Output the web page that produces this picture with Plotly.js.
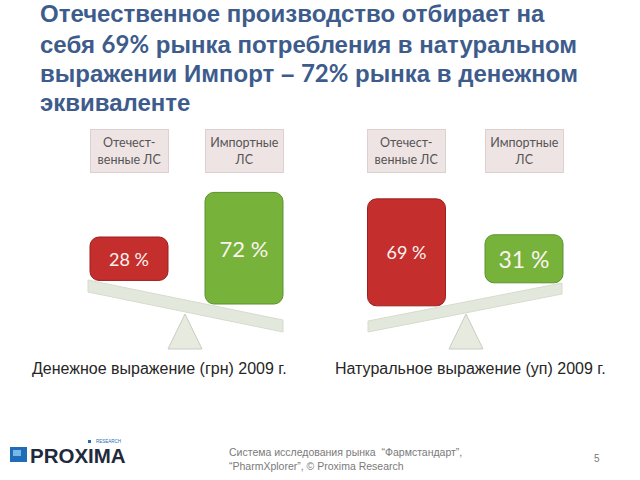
<!DOCTYPE html>
<html>
<head>
<meta charset="utf-8">
<script src="https://cdn.plot.ly/plotly-3.0.1.min.js"></script>
<style>html,body{margin:0;padding:0;background:#fff}#chart{width:640px;height:480px}</style>
</head>
<body>
<div id="chart"></div>
<script>
// ---- data ----
const categories = ['Отечест-<br>венные ЛС', 'Импортные<br>ЛС'];
const moneyShare = [28, 72];   // Денежное выражение (грн) 2009 г.
const unitShare  = [69, 31];   // Натуральное выражение (уп) 2009 г.
const captions = ['Денежное выражение (грн) 2009 г.', 'Натуральное выражение (уп) 2009 г.'];
const titleLines = [
  'Отечественное производство отбирает на',
  'себя <span style="font-family:Lato">69%</span> рынка потребления в натуральном',
  'выражении Импорт – <span style="font-family:Lato">72%</span> рынка в денежном',
  'эквиваленте'
];
const footerText = 'Система исследования рынка  “Фармстандарт”,<br>“PharmXplorer”, © Proxima Research';
const pageNumber = '5';

// ---- geometry (layout only) ----
const W = 640, H = 480, K = 1.55;          // 1 y-unit = K px
const Y = py => (H - py) / K;
const BOXW = 78;
const colors = ['#c42e2d', '#77b23a'];
const lineColors = ['#9a1f1f', '#5d9230'];

const panels = [
  {shares: moneyShare, centers: [129, 244], beam: [[88, 280], [283, 320]], thick: 12, fulcrum: 185, capX: 159, fs: [18, 22]},
  {shares: unitShare,  centers: [406.5, 524], beam: [[368, 321], [562, 283]], thick: 11, fulcrum: 466, capX: 470, fs: [18, 23]}
];

const traces = [];
const shapes = [];
const annotations = [];

panels.forEach((p, pi) => {
  const [[x0, y0], [x1, y1]] = p.beam;
  const beamTop = x => y0 + (y1 - y0) * (x - x0) / (x1 - x0);
  shapes.push({type: 'path', xref: 'x', yref: 'y', layer: 'below',
    path: `M${p.fulcrum},${Y(314)} L${p.fulcrum - 17},${Y(349)} L${p.fulcrum + 17},${Y(349)} Z`,
    fillcolor: '#e7eadf', line: {color: '#c9cdbf', width: 1}});
  shapes.push({type: 'path', xref: 'x', yref: 'y', layer: 'below',
    path: `M${x0},${Y(y0)} L${x1},${Y(y1)} L${x1},${Y(y1 + p.thick)} L${x0},${Y(y0 + p.thick)} Z`,
    fillcolor: '#e3e8dc', line: {color: '#d6dbcd', width: 1}});
  const bases = p.centers.map(c => Math.max(Y(beamTop(c - BOXW / 2)), Y(beamTop(c + BOXW / 2))));
  traces.push({
    type: 'bar', x: p.centers, y: p.shares, base: bases, width: [BOXW, BOXW],
    marker: {color: colors, line: {color: lineColors, width: 1}, cornerradius: 9},
    text: p.shares.map(v => v + ' %'), textposition: 'inside', insidetextanchor: 'middle',
    textfont: {family: 'Lato, "Open Sans", sans-serif', size: p.fs, color: '#fbf3f0'},
    constraintext: 'none', hoverinfo: 'skip', showlegend: false
  });
  p.centers.forEach((c, i) => {
    annotations.push({xref: 'x', yref: 'y', x: c, y: Y(151), text: categories[i], showarrow: false,
      width: 75, height: 40, borderpad: 1, bgcolor: '#efe4e4', bordercolor: '#ddd0d0', borderwidth: 1,
      font: {family: 'Lato, "Open Sans", sans-serif', size: 12.5, color: '#555555'}, align: 'center'});
  });
  annotations.push({xref: 'x', yref: 'y', x: p.capX, y: Y(368), text: captions[pi], showarrow: false,
    font: {family: '"Liberation Sans", Arial, sans-serif', size: 16, color: '#262626'}});
});

// title lines
const titleY = [13, 43, 72.5, 102];
titleLines.forEach((t, i) => {
  annotations.push({xref: 'x', yref: 'y', x: 38, y: Y(titleY[i]), xanchor: 'left', yanchor: 'middle', text: '<b>' + t + '</b>',
    showarrow: false, font: {family: '"Liberation Sans", Arial, sans-serif', size: 24, color: '#3d5c8c'}});
});

// footer: logo
shapes.push({type: 'rect', xref: 'x', yref: 'y', x0: 10, x1: 27, y0: Y(462), y1: Y(447), fillcolor: '#1f6db6', line: {width: 0}});
shapes.push({type: 'rect', xref: 'x', yref: 'y', x0: 13, x1: 21, y0: Y(456), y1: Y(450), fillcolor: '#7ab6e8', line: {width: 0}});
shapes.push({type: 'rect', xref: 'x', yref: 'y', x0: 88, x1: 91, y0: Y(443), y1: Y(440), fillcolor: '#1f6db6', line: {width: 0}});
annotations.push({xref: 'x', yref: 'y', x: 28, y: Y(455), xanchor: 'left', text: '<b>PROXIMA</b>', showarrow: false,
  font: {family: '"Liberation Sans", sans-serif', size: 20.5, color: '#1f2a3c'}});
annotations.push({xref: 'x', yref: 'y', x: 123, y: Y(441.5), xanchor: 'right', text: 'RESEARCH', showarrow: false,
  font: {family: '"Liberation Sans", sans-serif', size: 4.5, color: '#1f6db6'}});
annotations.push({xref: 'x', yref: 'y', x: 227, y: Y(459), xanchor: 'left', align: 'left', text: footerText, showarrow: false,
  font: {family: '"Liberation Sans", sans-serif', size: 10.5, color: '#7a7a7a'}});
annotations.push({xref: 'x', yref: 'y', x: 597, y: Y(458), text: pageNumber, showarrow: false,
  font: {family: '"Liberation Sans", sans-serif', size: 10, color: '#7a7a7a'}});

const layout = {
  width: W, height: H, margin: {l: 0, r: 0, t: 0, b: 0},
  paper_bgcolor: '#ffffff', plot_bgcolor: '#ffffff',
  xaxis: {range: [0, W], visible: false, fixedrange: true},
  yaxis: {range: [0, H / K], visible: false, fixedrange: true},
  barmode: 'overlay', showlegend: false,
  shapes: shapes, annotations: annotations
};

Plotly.newPlot('chart', traces, layout, {displayModeBar: false, staticPlot: true});
</script>
</body>
</html>
